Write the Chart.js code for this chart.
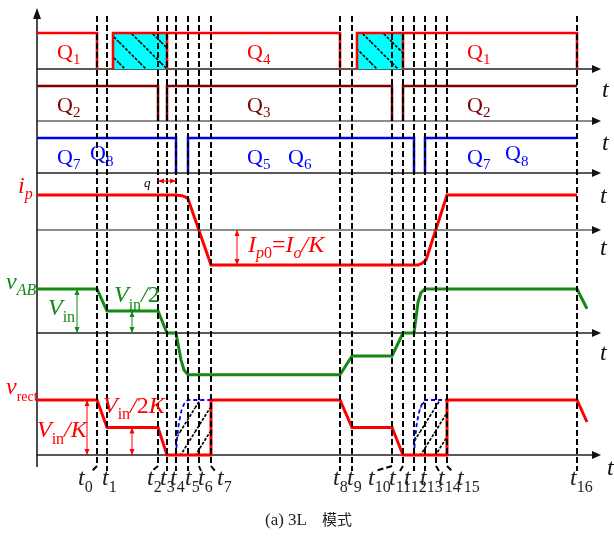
<!DOCTYPE html>
<html>
<head>
<meta charset="utf-8">
<script src="https://cdn.jsdelivr.net/npm/chart.js@4.4.1/dist/chart.umd.min.js"></script>
<style>
  html, body { margin: 0; padding: 0; background: #fff; }
  canvas { display: block; }
</style>
</head>
<body>
<canvas id="timing" width="614" height="536"></canvas>
<script>
// switching instants t0 ... t16 on the time axis
const T = [60, 70, 121, 130, 139, 151, 162, 174, 303, 315, 355, 366, 377, 388, 399, 410, 540];
const tNames = ['0', '1', '2', '3', '4', '5', '6', '7', '8', '9', '10', '11', '12', '13', '14', '15', '16'];
const tEnd = 563;

// gate signals, 1 = on (null breaks the trace)
const q14Time  = [0, T[0], T[0], null, 76, 76, T[8], T[8], null, T[3], T[3], null, 320, 320, T[16], T[16], null, T[11], T[11]];
const q14Level = [1, 1, 0, null, 0, 1, 1, 0, null, 1, 0, null, 0, 1, 1, 0, null, 1, 0];
const q23Time  = [0, T[2], T[2], null, T[3], T[3], T[10], T[10], null, T[11], T[11], T[16]];
const q23Level = [1, 1, 0, null, 0, 1, 1, 0, null, 0, 1, 1];
const q78Time  = [0, T[4], T[4], null, T[5], T[5], T[12], T[12], null, T[13], T[13], T[16]];
const q78Level = [1, 1, 0, null, 0, 1, 1, 0, null, 0, 1, 1];
// overlap intervals of Q1/Q4 (shaded)
const overlapSpans = [[76, T[3]], [320, T[11]]];

// primary current i_p (units of Ip0)
const ipTime  = [0, T[4], 145, 148, T[5], T[7], 381, 385, 389, T[15], T[16]];
const ipLevel = [1, 1, 0.98, 0.95, 0.89, -1, -1, -0.95, -0.86, 1, 1];

// bridge voltage v_AB (units of Vin)
const vabTime  = [0, T[0], T[1], T[2], T[3], T[4], 144, 147, T[5], T[8], T[9], T[10], T[11], T[12], 381, 384, T[13], T[16], 550];
const vabLevel = [1, 1, 0.5, 0.5, 0, 0, -0.61, -0.84, -0.95, -0.95, -0.52, -0.52, 0, 0, 0.7, 0.92, 1, 1, 0.55];

// rectifier voltage v_rect (units of Vin/K)
const vrTime  = [0, T[0], T[1], T[2], T[3], T[7], T[7], T[8], T[9], T[10], T[11], T[15], T[15], T[16], 550];
const vrLevel = [1, 1, 0.5, 0.5, 0, 0, 1, 1, 0.5, 0.5, 0, 0, 1, 1, 0.6];

// dashed envelope of the possible v_rect rise
const envTime1 = [T[4], 140, 142, 145, 148, T[5], T[7]];
const envTime2 = [T[12], 378, 380, 383, 386, T[13], T[15]];
const envLevel = [0, 0.3, 0.6, 0.85, 0.96, 1, 1];

// ---- layout ----
const rows = {
  q14:   { base: 69,  amp: 36 },
  q23:   { base: 121, amp: 35 },
  q78:   { base: 173, amp: 35 },
  ip:    { base: 230, amp: 35 },
  vab:   { base: 333, amp: 44 },
  vrect: { base: 455, amp: 55 }
};
const dashTop = 16, dashBottom = 466, leadDrop = 5;
const leadBend = [-5, 0, -6, 0, 0, 0, 2, 4, 0, 0, -17, -3, 0, 0, 3, 5, 0];
const tLabelX = [78, 102, 147, 160, 170, 185, 198, 217, 333, 347, 368, 389, 404, 420, 438, 457, 570];

const RED = '#ff0000', MAROON = '#7f0000', BLUE = '#0000ff', GREEN = '#138a13';
const SERIF = '"Liberation Serif", "Times New Roman", serif';

function trace(times, levels, row) {
  return times.map((t, i) => t === null
    ? { x: times[i - 1], y: null }
    : { x: t, y: row.base - levels[i] * row.amp });
}

function hatch(bg, w, h, dir, shift, lw) {
  const c = document.createElement('canvas');
  c.width = w; c.height = h;
  const g = c.getContext('2d');
  if (bg) { g.fillStyle = bg; g.fillRect(0, 0, w, h); }
  g.strokeStyle = '#000';
  g.lineWidth = lw;
  g.setLineDash([3, 1.5]);
  for (const o of [-w, 0, w]) {
    g.beginPath();
    if (dir === '\\') { g.moveTo(o, 0); g.lineTo(o + w, h); }
    else { g.moveTo(o, h); g.lineTo(o + w, 0); }
    g.stroke();
  }
  const p = g.createPattern(c, 'repeat');
  if (shift) p.setTransform(new DOMMatrix([1, 0, 0, 1, shift, 0]));
  return p;
}

const datasets = [];

// dashed instants, on top
T.forEach((t, i) => {
  datasets.push({
    data: [{ x: t, y: dashTop }, { x: t, y: dashBottom }, { x: t + leadBend[i], y: dashBottom + leadDrop }],
    borderColor: '#000', borderWidth: 2, borderDash: [6, 3], order: 0, clip: false
  });
});

function wave(data, color, width) {
  datasets.push({ data, borderColor: color, borderWidth: width, order: 1, clip: false, spanGaps: false });
}
wave(trace(q14Time, q14Level, rows.q14), RED, 2.6);
wave(trace(q23Time, q23Level, rows.q23), MAROON, 2.5);
wave(trace(q78Time, q78Level, rows.q78), BLUE, 2.5);
wave(trace(ipTime, ipLevel, rows.ip), RED, 3);
wave(trace(vabTime, vabLevel, rows.vab), GREEN, 3);
wave(trace(vrTime, vrLevel, rows.vrect), RED, 3);

const cyanHatch = hatch('#00ffff', 21, 21, '\\', 14, 1.6);
overlapSpans.forEach(([a, b]) => {
  datasets.push({
    data: trace([a, b], [1, 1], rows.q14),
    borderWidth: 0, borderColor: 'rgba(0,0,0,0)',
    backgroundColor: cyanHatch, fill: { value: rows.q14.base }, order: 3
  });
});

const slashHatch = hatch(null, 15, 24, '/', 0, 1.7);
[envTime1, envTime2].forEach(times => {
  datasets.push({
    data: trace(times, envLevel, rows.vrect),
    borderColor: BLUE, borderWidth: 1.8, borderDash: [4, 3],
    backgroundColor: slashHatch, fill: { value: rows.vrect.base }, order: 2
  });
});

// dimension arrows (row, time, from level, to level)
const dims = [
  { row: 'ip', t: 200, from: 0, to: -1, color: RED },
  { row: 'vab', t: 40, from: 1, to: 0, color: GREEN },
  { row: 'vab', t: 95, from: 0.5, to: 0, color: GREEN },
  { row: 'vrect', t: 50, from: 1, to: 0, color: RED },
  { row: 'vrect', t: 95, from: 0.5, to: 0, color: RED }
];

// text: [string, size, italic, dy]
const notes = [
  { x: 57, y: 59, c: RED, p: [['Q', 22], ['1', 15, 0, 5]] },
  { x: 247, y: 59, c: RED, p: [['Q', 22], ['4', 15, 0, 5]] },
  { x: 467, y: 59, c: RED, p: [['Q', 22], ['1', 15, 0, 5]] },
  { x: 57, y: 112, c: MAROON, p: [['Q', 22], ['2', 15, 0, 5]] },
  { x: 247, y: 112, c: MAROON, p: [['Q', 22], ['3', 15, 0, 5]] },
  { x: 467, y: 112, c: MAROON, p: [['Q', 22], ['2', 15, 0, 5]] },
  { x: 57, y: 164, c: BLUE, p: [['Q', 22], ['7', 15, 0, 5]] },
  { x: 90, y: 160, c: BLUE, p: [['Q', 22], ['8', 15, 0, 6]] },
  { x: 247, y: 164, c: BLUE, p: [['Q', 22], ['5', 15, 0, 5]] },
  { x: 288, y: 164, c: BLUE, p: [['Q', 22], ['6', 15, 0, 5]] },
  { x: 467, y: 164, c: BLUE, p: [['Q', 22], ['7', 15, 0, 5]] },
  { x: 505, y: 160, c: BLUE, p: [['Q', 22], ['8', 15, 0, 6]] },
  { x: 18, y: 193, c: RED, p: [['i', 24, 1], ['p', 16, 1, 6]] },
  { x: 144, y: 187, c: '#000', p: [['q', 13, 1]] },
  { x: 248, y: 252, c: RED, p: [['I', 24, 1], ['p', 16, 1, 6], ['0', 16, 0, 6], ['=', 24], ['I', 24, 1], ['o', 16, 1, 6], ['/K', 24, 1]] },
  { x: 6, y: 289, c: GREEN, p: [['v', 24, 1], ['AB', 16, 1, 6]] },
  { x: 48, y: 315, c: GREEN, p: [['V', 24, 1], ['in', 16, 0, 7]] },
  { x: 114, y: 302, c: GREEN, p: [['V', 24, 1], ['in', 16, 0, 8], ['/', 24, 1], ['2', 24]] },
  { x: 6, y: 394, c: RED, p: [['v', 24, 1], ['rect', 14, 0, 7]] },
  { x: 37, y: 437, c: RED, p: [['V', 24, 1], ['in', 16, 0, 7], ['/K', 24, 1]] },
  { x: 103, y: 413, c: RED, p: [['V', 24, 1], ['in', 16, 0, 6], ['/', 24, 1], ['2', 24], ['K', 24, 1]] }
];
const axisT = [[602, 97], [602, 150], [600, 203], [600, 255], [600, 360], [607, 475]];

function rich(ctx, x, y, parts, color) {
  ctx.fillStyle = color;
  ctx.textBaseline = 'alphabetic';
  ctx.textAlign = 'left';
  let cx = x;
  for (const [s, size, italic, dy] of parts) {
    ctx.font = (italic ? 'italic ' : '') + size + 'px ' + SERIF;
    ctx.fillText(s, cx, y + (dy || 0));
    cx += ctx.measureText(s).width;
  }
}

function head(ctx, x, y, ang, len, half) {
  ctx.beginPath();
  ctx.moveTo(x, y);
  ctx.lineTo(x - len * Math.cos(ang) + half * Math.sin(ang), y - len * Math.sin(ang) - half * Math.cos(ang));
  ctx.lineTo(x - len * Math.cos(ang) - half * Math.sin(ang), y - len * Math.sin(ang) + half * Math.cos(ang));
  ctx.closePath();
  ctx.fill();
}

function dimArrow(ctx, x1, y1, x2, y2, color) {
  ctx.strokeStyle = color; ctx.fillStyle = color; ctx.lineWidth = 1;
  ctx.beginPath(); ctx.moveTo(x1, y1); ctx.lineTo(x2, y2); ctx.stroke();
  const a = Math.atan2(y2 - y1, x2 - x1);
  head(ctx, x2, y2, a, 6, 2.5);
  head(ctx, x1, y1, a + Math.PI, 6, 2.5);
}

const diagram = {
  id: 'diagram',
  beforeDatasetsDraw(chart) {
    const { ctx, scales: { x, y } } = chart;
    const x0 = x.getPixelForValue(0), xe = x.getPixelForValue(tEnd);
    ctx.save();
    // time axes of every trace
    Object.entries(rows).forEach(([k, r]) => {
      const py = y.getPixelForValue(r.base);
      const col = (k === 'q23' || k === 'ip') ? '#666' : '#222';
      ctx.strokeStyle = col; ctx.fillStyle = '#111'; ctx.lineWidth = 1.3;
      ctx.beginPath(); ctx.moveTo(x0, py); ctx.lineTo(xe - 6, py); ctx.stroke();
      head(ctx, xe + 1, py, 0, 9, 4);
    });
    // vertical axis
    ctx.strokeStyle = '#111'; ctx.fillStyle = '#111'; ctx.lineWidth = 1.5;
    ctx.beginPath(); ctx.moveTo(x0, 467); ctx.lineTo(x0, 16); ctx.stroke();
    head(ctx, x0, 8, -Math.PI / 2, 11, 4);
    ctx.restore();
  },
  afterDatasetsDraw(chart) {
    const { ctx, scales: { x, y } } = chart;
    ctx.save();
    dims.forEach(d => {
      const r = rows[d.row];
      const px = x.getPixelForValue(d.t);
      dimArrow(ctx, px, y.getPixelForValue(r.base - d.from * r.amp), px, y.getPixelForValue(r.base - d.to * r.amp), d.color);
    });
    // overlap width q between t2 and t4
    dimArrow(ctx, x.getPixelForValue(T[2]), 181, x.getPixelForValue(T[4]), 181, RED);

    notes.forEach(n => rich(ctx, n.x, n.y, n.p, n.c));
    axisT.forEach(([px, py]) => rich(ctx, px, py, [['t', 24, 1]], '#111'));
    T.forEach((t, i) => rich(ctx, tLabelX[i], 485, [['t', 24, 1], [tNames[i], 16, 0, 7]], '#222'));

    rich(ctx, 265, 525, [['(a) 3L', 17]], '#222');
    ctx.font = '15px "Noto Sans CJK SC"';
    ctx.fillText('模式', 322, 525);
    ctx.restore();
  }
};

new Chart(document.getElementById('timing'), {
  type: 'line',
  data: { datasets },
  options: {
    responsive: false,
    animation: false,
    layout: { padding: { left: 37, right: 14, top: 0, bottom: 0 } },
    scales: {
      x: { type: 'linear', display: false, min: 0, max: tEnd },
      y: { type: 'linear', display: false, min: 0, max: 536, reverse: true }
    },
    elements: { point: { radius: 0, hoverRadius: 0 }, line: { tension: 0 } },
    plugins: { legend: { display: false }, tooltip: { enabled: false } },
    events: []
  },
  plugins: [diagram]
});
</script>
</body>
</html>
